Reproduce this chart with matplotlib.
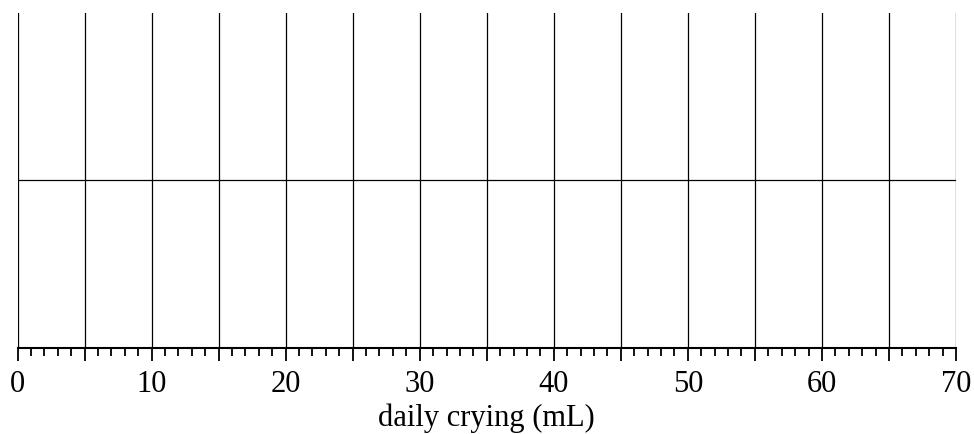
import matplotlib.pyplot as plt
from matplotlib.ticker import MultipleLocator

x_min, x_max = 0, 70
major_step = 5
minor_step = 1
label_step = 10
row_levels = [0.5]
x_label = 'daily crying (mL)'

plt.rcParams['font.family'] = ['Liberation Serif', 'DejaVu Serif']

fig = plt.figure(figsize=(9.74, 4.34), dpi=100)
ax = fig.add_axes([17.5 / 974, 1 - 348 / 434, (956 - 17.5) / 974, (348 - 13) / 434])

ax.set_xlim(x_min, x_max)
ax.set_ylim(0, 1)

ax.xaxis.set_major_locator(MultipleLocator(major_step))
ax.xaxis.set_minor_locator(MultipleLocator(minor_step))
ticks = list(range(x_min, x_max + 1, major_step))
ax.set_xticks(ticks)
ax.set_xticklabels([str(t) if t % label_step == 0 else '' for t in ticks], fontsize=22)
ax.set_yticks(row_levels)
ax.set_yticklabels([])
ax.tick_params(axis='y', length=0)

ax.tick_params(axis='x', which='major', length=9, width=1.3, color='black', pad=7)
ax.tick_params(axis='x', which='minor', length=6, width=1.3, color='black')

ax.grid(True, axis='x', which='major', color='black', linewidth=0.9)
ax.grid(True, axis='y', color='black', linewidth=0.9)

for side in ['top', 'right', 'left']:
    ax.spines[side].set_visible(False)
ax.spines['bottom'].set_linewidth(1.5)

ax.set_xlabel(x_label, fontsize=22, labelpad=3)

plt.savefig('out.png', dpi=100)
